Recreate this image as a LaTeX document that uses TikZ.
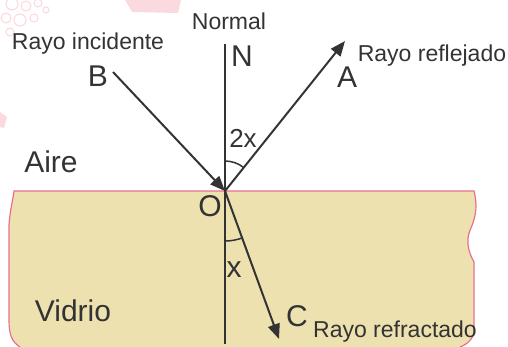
\documentclass[tikz,border=0pt]{standalone}
\usepackage{fontspec}
\setmainfont{Liberation Sans}
\usetikzlibrary{arrows.meta}
\definecolor{ink}{HTML}{333333}
\definecolor{glass}{HTML}{EDE1B0}
\definecolor{edgepink}{HTML}{E9708C}
\definecolor{wm}{HTML}{FADADF}
\begin{document}
\begin{tikzpicture}[x=1pt,y=-1pt,
  ray/.style={draw=ink,line width=2pt,-{Triangle[length=15pt,width=12pt]}},
  plainline/.style={draw=ink,line width=2pt},
  anglearc/.style={draw=ink,line width=1.5pt},
  smalllab/.style={text=ink,anchor=base,inner sep=0pt,font=\fontsize{23}{26}\selectfont},
  biglab/.style={text=ink,anchor=base,inner sep=0pt,font=\fontsize{30}{34}\selectfont},
  midlab/.style={text=ink,anchor=base,inner sep=0pt,font=\fontsize{26}{30}\selectfont}]
\useasboundingbox (0,0) rectangle (508,347);
% faint watermark
\fill[wm] (125,0) -- (181,0) -- (178,13) -- (132,12) -- cycle;
\fill[wm] (0,112) -- (7,117) -- (4,128) -- (0,127) -- cycle;
\begin{scope}[draw=wm,line width=1.1pt]
  \draw (12,4) circle[radius=6];
  \draw (26,6) circle[radius=5];
  \draw (38,3) circle[radius=4];
  \draw (6,18) circle[radius=5];
  \draw (20,20) circle[radius=6];
  \draw (34,18) circle[radius=4];
  \draw (10,32) circle[radius=4];
  \draw (46,10) circle[radius=3];
\end{scope}
% glass block
\fill[glass] (14,191) -- (474,191) .. controls (477,203) and (477,214) .. (471,228)
  .. controls (466,238) and (467,250) .. (474,262) -- (474,330)
  .. controls (474,338) and (468,344) .. (460,347) -- (20,347)
  .. controls (12,342) and (9,335) .. (9,320) -- (9,225)
  .. controls (10,210) and (13,200) .. (14,191) -- cycle;
\draw[edgepink,line width=1.2pt] (460,347) .. controls (468,344) and (474,338) .. (474,330)
  -- (474,262) .. controls (467,250) and (466,238) .. (471,228)
  .. controls (477,214) and (477,203) .. (474,191) -- (14,191)
  .. controls (13,200) and (10,210) .. (9,225) -- (9,320)
  .. controls (9,335) and (12,342) .. (20,347);
% geometry
\coordinate (O) at (225,191);
\coordinate (Ntop) at (225,44);
\coordinate (Nbot) at (225,344);
\coordinate (Bend) at (113,72);
\coordinate (Aend) at (345,41);
\coordinate (Cend) at (279,339);
\draw[plainline] (Ntop) -- (Nbot);
\draw[ray] (Bend) -- (O);
\draw[ray] (O) -- (Aend);
\draw[ray] (O) -- (Cend);
\draw[anglearc] (O) ++(-90:30) arc[start angle=-90, end angle=-51.3, radius=30];
\draw[anglearc] (O) ++(90:50) arc[start angle=90, end angle=70, radius=50];
% labels
\node[smalllab] (lnormal) at (229,30) {Normal};
\node[smalllab] (linc) at (88,50) {Rayo incidente};
\node[smalllab] (lrefl) at (432,62) {Rayo reflejado};
\node[smalllab] (lrefr) at (395,337) {Rayo refractado};
\node[biglab] (lN) at (242,67) {N};
\node[biglab] (lB) at (98,87) {B};
\node[biglab] (lA) at (347,88) {A};
\node[biglab] (lAire) at (51,173) {Aire};
\node[biglab] (lO) at (210,217) {O};
\node[biglab] (lVidrio) at (73,321) {Vidrio};
\node[biglab] (lC) at (297,326) {C};
\node[midlab] (l2x) at (243,148) {2x};
\node[biglab] (lx) at (234,277) {x};
\end{tikzpicture}
\end{document}
